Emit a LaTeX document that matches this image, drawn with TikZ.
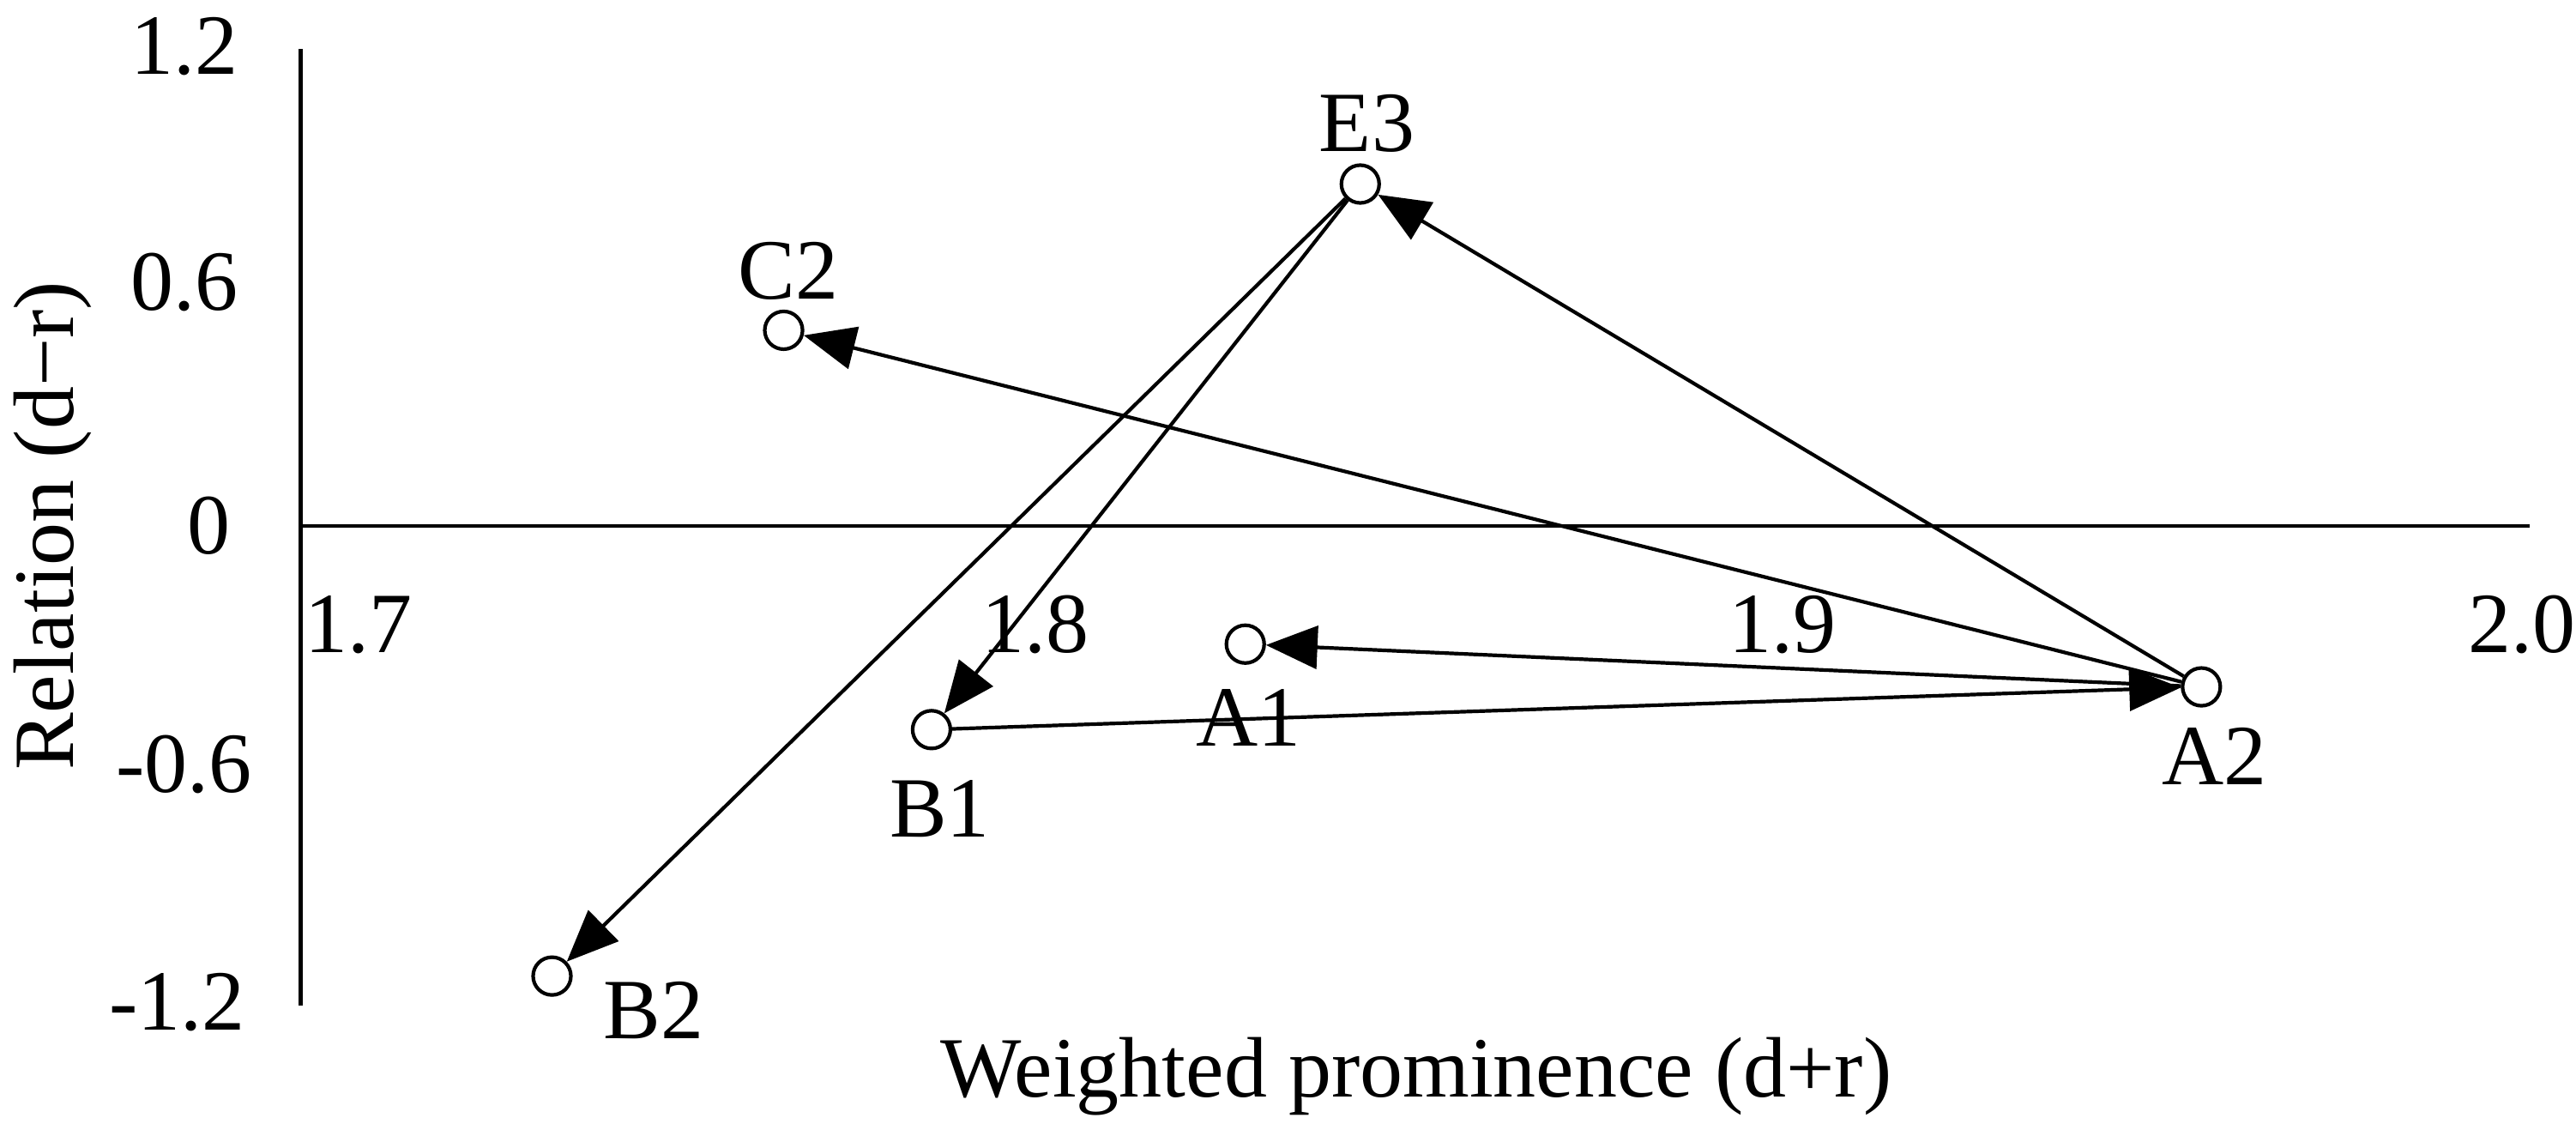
\documentclass[tikz,border=0pt]{standalone}
\usepackage{fontspec}
\setmainfont{Liberation Serif}
\usetikzlibrary{arrows.meta}
\begin{document}
\begin{tikzpicture}[x=1.9152pt,y=-1.9152pt,
  txt/.style={font=\fontsize{100}{104}\selectfont,inner sep=0pt},
  pt/.style={circle,draw,fill=white,line width=4.2pt,minimum size=23pt*1.9152,inner sep=0pt},
  ar/.style={line width=4.2pt,-{Triangle[length=60pt,width=50pt]}}]
\useasboundingbox (0,0) rectangle (1568,691);
\coordinate (yt) at (183,30); \coordinate (yb) at (183,612);
\coordinate (xl) at (183,320); \coordinate (xr) at (1540,320);
\draw[line width=4.2pt] (yt)--(yb);
\draw[line width=4.2pt] (xl)--(xr);
\node[txt] (l1) at (112,28) {1.2};
\node[txt] (l2) at (112,172) {0.6};
\node[txt] (l3) at (127,320) {0};
\node[txt] (l4) at (112,465) {-0.6};
\node[txt] (l5) at (108,610) {-1.2};
\node[txt] (m1) at (218,380) {1.7};
\node[txt] (m2) at (630,380) {1.8};
\node[txt] (m3) at (1085,380) {1.9};
\node[txt] (m4) at (1535,380) {2.0};
\node[txt,rotate=90] (yl) at (32,320) {Relation (d−r)};
\node[txt] (xlab) at (862,655) {Weighted prominence (d+r)};
\node[pt] (E3) at (828,112) {};
\node[pt] (C2) at (477,201) {};
\node[pt] (A1) at (758,392) {};
\node[pt] (A2) at (1340,418) {};
\node[pt] (B1) at (567,444) {};
\node[pt] (B2) at (336,594) {};
\node[txt] (tE3) at (832,75) {E3};
\node[txt] (tC2) at (480,165) {C2};
\node[txt] (tA1) at (760,437) {A1};
\node[txt] (tA2) at (1348,460) {A2};
\node[txt] (tB1) at (572,492) {B1};
\node[txt] (tB2) at (398,615) {B2};
\draw[ar] (A2)--(E3);
\draw[ar] (A2)--(C2);
\draw[ar] (A2)--(A1);
\draw[ar] (B1)--(A2);
\draw[ar] (E3)--(B1);
\draw[ar] (E3)--(B2);
\end{tikzpicture}
\end{document}
